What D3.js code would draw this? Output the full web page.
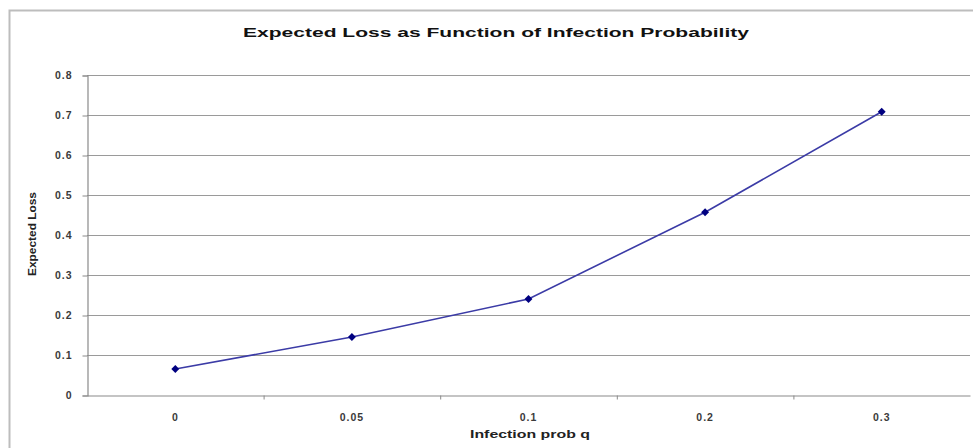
<!DOCTYPE html>
<html>
<head>
<meta charset="utf-8">
<script src="https://cdn.jsdelivr.net/npm/d3@7"></script>
<style>
  html, body { margin: 0; padding: 0; background: #fff; }
  svg { display: block; }
  text { font-family: "Liberation Sans", Arial, sans-serif; }
</style>
</head>
<body>
<svg id="chart" width="973" height="448"></svg>
<script>
const categories = ["0", "0.05", "0.1", "0.2", "0.3"];
const expectedLoss = [0.065, 0.145, 0.24, 0.457, 0.708];
const yTicks = [0, 0.1, 0.2, 0.3, 0.4, 0.5, 0.6, 0.7, 0.8];
const yTickLabels = ["0", "0.1", "0.2", "0.3", "0.4", "0.5", "0.6", "0.7", "0.8"];
const titleText = "Expected Loss as Function of Infection Probability";
const xAxisTitle = "Infection prob q";
const yAxisTitle = "Expected Loss";

const svg = d3.select("#chart");
const W = 973, H = 448;
const plot = { left: 87, right: 970, top: 75, bottom: 395 };

// outer chart border
svg.append("rect")
  .attr("x", 9.5).attr("y", 10.5)
  .attr("width", W + 20).attr("height", H + 20)
  .attr("fill", "#fff").attr("stroke", "#bdbdbd").attr("stroke-width", 2);

const x = d3.scaleBand().domain(categories).range([plot.left, plot.right]).padding(0);
const y = d3.scaleLinear().domain([0, 0.8]).range([plot.bottom, plot.top]);

// gridlines
svg.append("g").selectAll("line").data(yTicks.filter(d => d > 0)).join("line")
  .attr("x1", plot.left).attr("x2", plot.right)
  .attr("y1", d => Math.round(y(d)) + 0.5).attr("y2", d => Math.round(y(d)) + 0.5)
  .attr("stroke", "#9a9a9a").attr("stroke-width", 1.2);

// y axis
const yAxis = d3.axisLeft(y).tickValues(yTicks)
  .tickFormat((d, i) => yTickLabels[i]).tickSize(5).tickPadding(10);
const gy = svg.append("g").attr("transform", `translate(${plot.left + 0.5},0.5)`).call(yAxis);
gy.select(".domain").attr("stroke", "#8a8a8a").attr("stroke-width", 1.2);
gy.selectAll(".tick line").attr("stroke", "#8a8a8a");
gy.selectAll(".tick text").attr("fill", "#3a3a3a").attr("font-size", 10.5)
  .attr("font-weight", "bold").style("letter-spacing", "1px");

// x axis
const xAxis = d3.axisBottom(x).tickSize(0).tickPadding(18);
const gx = svg.append("g").attr("transform", `translate(0,${plot.bottom + 0.5})`).call(xAxis);
gx.select(".domain").attr("stroke", "#8a8a8a").attr("stroke-width", 1.2);
gx.selectAll(".tick text").attr("fill", "#3a3a3a").attr("font-size", 10.5)
  .attr("font-weight", "bold").style("letter-spacing", "1px");
// boundary tick marks between categories
gx.append("g").selectAll("line").data(categories.slice(1)).join("line")
  .attr("x1", d => x(d) + 0.5).attr("x2", d => x(d) + 0.5)
  .attr("y1", 0).attr("y2", 4).attr("stroke", "#8a8a8a");

// line
const line = d3.line().x((d, i) => x(categories[i]) + x.bandwidth() / 2).y(d => y(d));
svg.append("path").datum(expectedLoss)
  .attr("d", line).attr("fill", "none")
  .attr("stroke", "#3b3ba6").attr("stroke-width", 1.6);

// markers (diamonds)
svg.append("g").selectAll("path").data(expectedLoss).join("path")
  .attr("transform", (d, i) => `translate(${x(categories[i]) + x.bandwidth() / 2},${y(d)})`)
  .attr("d", d3.symbol().type(d3.symbolDiamond2).size(40))
  .attr("fill", "#000080");

// title
svg.append("text").attr("x", 496).attr("y", 37).attr("text-anchor", "middle")
  .attr("font-size", 13.5).attr("font-weight", "bold").attr("fill", "#111")
  .attr("textLength", 506).attr("lengthAdjust", "spacingAndGlyphs")
  .text(titleText);

// x axis title
svg.append("text").attr("x", 530).attr("y", 438).attr("text-anchor", "middle")
  .attr("font-size", 10.5).attr("font-weight", "bold").attr("fill", "#222")
  .attr("textLength", 120).attr("lengthAdjust", "spacingAndGlyphs")
  .text(xAxisTitle);

// y axis title
svg.append("text").attr("transform", "translate(36,234) rotate(-90)")
  .attr("text-anchor", "middle")
  .attr("font-size", 10).attr("font-weight", "bold").attr("fill", "#222")
  .attr("textLength", 84).attr("lengthAdjust", "spacingAndGlyphs")
  .text(yAxisTitle);
</script>
</body>
</html>
